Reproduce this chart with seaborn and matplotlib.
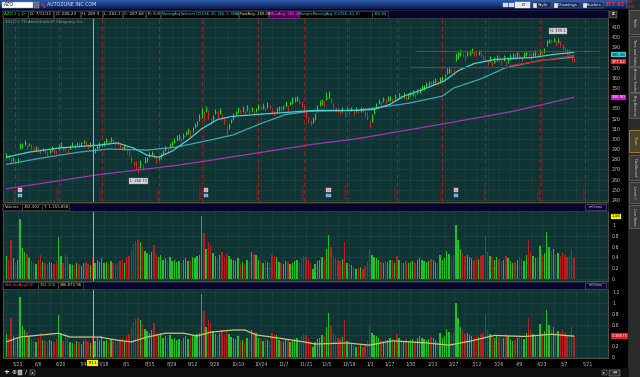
import numpy as np
import pandas as pd
import matplotlib
matplotlib.use("Agg")
import matplotlib.pyplot as plt
import matplotlib.transforms as mtrans
from matplotlib.patches import Rectangle
from matplotlib.ticker import FuncFormatter
import seaborn as sns

sns.set_theme(style="dark")
plt.rcParams['font.family'] = ['DejaVu Sans']
plt.rcParams['axes.unicode_minus'] = False

# ---------------- data ----------------
first_day = "2011-05-16"
last_axis_day = "2012-06-08"
market_holidays = ["2011-05-30", "2011-07-04", "2011-09-05", "2011-11-24", "2011-12-26",
                   "2012-01-02", "2012-01-16", "2012-02-20", "2012-04-06", "2012-05-28"]

close = [284, 282, 279, 281, 277, 279, 292, 294, 296, 293,
         295, 292, 290, 291, 289, 288, 290, 287, 286, 288,
         290, 289, 287, 292, 293, 291, 290, 289, 292, 294,
         293, 295, 294, 296, 297, 295, 293, 294, 287.68, 289,
         292, 294, 295, 296, 298, 297, 299, 298, 297, 296,
         293, 291, 292, 289, 286, 280, 276, 274, 268, 275,
         272, 278, 280, 284, 286, 283, 279, 281, 283, 287,
         290, 289, 293, 296, 298, 300, 302, 299, 303, 306,
         308, 305, 310, 313, 316, 321, 325, 323, 329, 324,
         318, 321, 326, 324, 327, 322, 319, 309, 313, 318,
         322, 325, 328, 327, 329, 326, 330, 327, 329, 325,
         328, 331, 330, 332, 329, 333, 331, 327, 325, 328,
         330, 329, 331, 333, 330, 335, 337, 338, 340, 336,
         334, 330, 324, 320, 316, 318, 322, 328, 335, 337,
         334, 340, 344, 338, 332, 329, 327, 326, 328, 325,
         329, 327, 329, 326, 328, 327, 329, 328, 325, 322,
         316, 320, 326, 333, 336, 335, 338, 337, 339, 340,
         338, 341, 339, 342, 341, 343, 340, 342, 344, 345,
         343, 346, 348, 350, 351, 353, 355, 354, 356, 357,
         355, 358, 359, 362, 366, 368, 367, 366, 380, 383,
         384, 382, 380, 383, 385, 386, 384, 383, 385, 382,
         380, 378, 376, 378, 375, 377, 380, 378, 376, 379,
         374, 378, 380, 382, 381, 383, 381, 379, 382, 384,
         383, 381, 383, 384, 382, 385, 384, 386, 395, 397,
         396, 398, 394, 396, 393, 390, 388, 385, 384, 380,
         377.62]

up = [2, 3, 2, 1, 3, 2, 4, 2, 3, 2,
      1, 3, 2, 2, 3, 2, 1, 3, 2, 2,
      3, 1, 2, 3, 4, 2, 3, 1, 2, 3,
      2, 2, 3, 1, 2, 3, 2, 3, 2.2, 2,
      2, 3, 1, 2, 3, 2, 3, 2, 1, 2,
      3, 2, 2, 3, 4, 3, 2, 4, 5, 4,
      3, 4, 2, 3, 2, 3, 4, 2, 3, 2,
      3, 2, 3, 2, 3, 4, 3, 2, 3, 2,
      3, 4, 2, 3, 2, 3, 5, 4, 3, 4,
      3, 2, 3, 4, 3, 2, 3, 4, 3, 2,
      3, 2, 3, 2, 3, 2, 3, 3, 2, 3,
      2, 3, 2, 3, 2, 3, 2, 3, 2, 3,
      2, 3, 2, 4, 3, 2, 4, 3, 2, 3,
      3, 4, 3, 2, 3, 4, 3, 5, 3, 2,
      3, 6, 3, 2, 3, 2, 3, 2, 3, 2,
      2, 3, 2, 2, 3, 2, 2, 3, 2, 4,
      3, 4, 3, 2, 3, 2, 3, 2, 3, 2,
      2, 3, 2, 3, 2, 3, 2, 3, 2, 3,
      2, 3, 2, 3, 2, 3, 2, 3, 2, 3,
      2, 3, 3, 2, 4, 3, 2, 3, 4, 3,
      4, 3, 2, 3, 2, 3, 2, 3, 2, 3,
      2, 3, 2, 3, 2, 3, 2, 3, 2, 3,
      3, 2, 3, 2, 3, 2, 3, 2, 3, 2,
      2, 3, 2, 3, 2, 3, 2, 3, 2, 1.5,
      2, 1, 3, 3.1, 3, 3, 2, 3, 4, 3,
      2]

dn = [3, 2, 4, 3, 2, 3, 2, 3, 2, 3,
      2, 3, 2, 3, 2, 3, 2, 2, 3, 2,
      2, 3, 2, 3, 2, 3, 2, 3, 2, 2,
      3, 2, 2, 3, 2, 2, 3, 2, 4.6, 3,
      2, 3, 2, 3, 2, 3, 2, 2, 3, 2,
      3, 2, 3, 4, 3, 4, 3, 4, 1.27, 4,
      3, 2, 3, 2, 3, 2, 3, 2, 3, 2,
      2, 3, 2, 3, 2, 2, 3, 2, 3, 2,
      3, 2, 3, 2, 3, 3, 4, 5, 3, 4,
      4, 3, 2, 3, 3, 3, 4, 5, 3, 2,
      3, 2, 3, 2, 3, 2, 3, 2, 3, 2,
      2, 3, 2, 3, 2, 3, 2, 3, 2, 3,
      3, 2, 3, 2, 3, 2, 3, 2, 3, 2,
      3, 4, 3, 4, 3, 2, 3, 2, 3, 4,
      3, 2, 4, 3, 2, 3, 2, 3, 2, 3,
      2, 3, 2, 3, 2, 2, 3, 2, 3, 3,
      4, 3, 2, 3, 2, 3, 2, 3, 2, 3,
      2, 3, 2, 3, 2, 3, 2, 3, 2, 3,
      3, 2, 3, 2, 3, 2, 3, 2, 3, 2,
      2, 3, 2, 3, 2, 3, 2, 3, 3, 4,
      3, 2, 3, 2, 3, 2, 3, 2, 3, 2,
      3, 2, 3, 2, 3, 2, 3, 2, 3, 2,
      2, 3, 2, 3, 2, 3, 2, 3, 2, 3,
      2, 3, 2, 3, 2, 3, 2, 2, 4, 3,
      2, 3, 3, 2, 3, 3, 2, 3, 2, 3,
      2]

volume = [0.42, 0.35, 0.73, 0.38, 0.30, 0.36, 1.12, 0.58, 0.50, 0.47,
          0.38, 0.33, 0.30, 0.28, 0.35, 0.45, 0.32, 0.29, 0.27, 0.31,
          0.30, 0.28, 0.33, 0.78, 0.42, 0.30, 0.45, 0.40, 0.28, 0.26,
          0.25, 0.30, 0.27, 0.24, 0.29, 0.31, 0.28, 0.26, 0.392, 0.30,
          0.35, 0.32, 0.38, 0.29, 0.31, 0.28, 0.34, 0.30, 0.27, 0.29,
          0.33, 0.36, 0.30, 0.38, 0.42, 0.55, 0.65, 0.70, 0.72, 0.68,
          0.60, 0.52, 0.48, 0.44, 0.50, 0.63, 0.45, 0.40, 0.45, 0.36,
          0.38, 0.35, 0.40, 0.33, 0.36, 0.31, 0.34, 0.30, 0.35, 0.38,
          0.33, 0.36, 0.40, 0.38, 0.42, 0.45, 1.16, 0.85, 0.55, 0.68,
          0.63, 0.48, 0.42, 0.38, 0.45, 0.50, 0.40, 0.46, 0.42, 0.37,
          0.35, 0.33, 0.38, 0.30, 0.32, 0.28, 0.35, 0.31, 0.50, 0.47,
          0.44, 0.36, 0.33, 0.30, 0.35, 0.31, 0.29, 0.45, 0.43, 0.40,
          0.32, 0.30, 0.28, 0.33, 0.31, 0.27, 0.30, 0.34, 0.36, 0.32,
          0.38, 0.42, 0.40, 0.35, 0.30, 0.18, 0.28, 0.33, 0.36, 0.40,
          0.38, 0.55, 0.82, 0.60, 0.45, 0.40, 0.35, 0.33, 0.37, 0.68,
          0.30, 0.28, 0.26, 0.22, 0.18, 0.20, 0.22, 0.19, 0.24, 0.32,
          0.55, 0.45, 0.40, 0.38, 0.35, 0.32, 0.30, 0.34, 0.31, 0.36,
          0.33, 0.30, 0.42, 0.35, 0.32, 0.30, 0.34, 0.29, 0.31, 0.33,
          0.30, 0.35, 0.38, 0.36, 0.33, 0.31, 0.34, 0.37, 0.35, 0.32,
          0.30, 0.45, 0.36, 0.38, 0.52, 0.47, 0.40, 0.45, 1.00, 0.72,
          0.55, 0.48, 0.42, 0.45, 0.40, 0.38, 0.36, 0.40, 0.37, 0.42,
          0.45, 0.80, 0.50, 0.42, 0.38, 0.35, 0.40, 0.37, 0.33, 0.36,
          0.42, 0.38, 0.34, 0.30, 0.32, 0.35, 0.40, 0.37, 0.34, 0.45,
          0.72, 0.50, 0.42, 0.38, 0.40, 0.62, 0.45, 0.48, 0.88, 0.60,
          0.52, 0.55, 0.45, 0.48, 0.42, 0.50, 0.45, 0.40, 0.42, 0.55,
          0.39]

# study lines (trading-day index, value)
ma20_idx = [0, 10, 23, 41, 49, 56, 62, 67, 73, 80, 86, 93, 99, 110, 123, 136, 145, 154,
            162, 169, 175, 184, 193, 199, 206, 215, 223, 232, 241, 250]
ma20_val = [282, 287, 291, 294, 296, 291, 284, 282, 288, 299, 310, 319, 322, 324, 326, 328,
            328, 328, 329, 334, 342, 349, 357, 367, 374, 378, 379, 380, 383, 385]
ma50_idx = [0, 15, 32, 45, 62, 75, 90, 100, 112, 123, 133, 154, 161, 177, 192, 197, 209,
            220, 235, 250]
ma50_val = [275, 281, 287, 290, 289, 292, 299, 304, 315, 324, 327, 328, 330, 335, 342, 350,
            359, 370, 377, 380.38]
ma200_idx = [0, 41, 75, 84, 136, 154, 193, 223, 250]
ma200_val = [251, 265, 274, 277, 295, 300, 315, 327, 340.90]
vavg_idx = [0, 6, 23, 28, 41, 49, 55, 62, 70, 78, 84, 90, 100, 105, 110, 120, 131, 136,
            150, 160, 170, 185, 195, 205, 215, 228, 240, 250]
vavg_val = [0.28, 0.37, 0.44, 0.37, 0.37, 0.31, 0.28, 0.37, 0.44, 0.44, 0.39, 0.46, 0.50,
            0.50, 0.41, 0.35, 0.28, 0.24, 0.26, 0.22, 0.30, 0.26, 0.22, 0.30, 0.40, 0.38,
            0.42, 0.387]

tick_dates = ["2011-05-23", "2011-06-06", "2011-06-20", "2011-07-05", "2011-07-18",
              "2011-08-01", "2011-08-15", "2011-08-29", "2011-09-12", "2011-09-26",
              "2011-10-10", "2011-10-24", "2011-11-07", "2011-11-21", "2011-12-05",
              "2011-12-19", "2012-01-03", "2012-01-17", "2012-01-30", "2012-02-13",
              "2012-02-27", "2012-03-12", "2012-03-26", "2012-04-09", "2012-04-23",
              "2012-05-07", "2012-05-21"]
tick_labels = ["5/23", "6/6", "6/20", "7/4", "7/18", "8/1", "8/15", "8/29", "9/12", "9/26",
               "10/10", "10/24", "11/7", "11/21", "12/5", "12/19", "1/3", "1/17", "1/30",
               "2/13", "2/27", "3/12", "3/26", "4/9", "4/23", "5/7", "5/21"]
expiry_dates = ["2011-05-20", "2011-06-17", "2011-07-15", "2011-08-19", "2011-09-16",
                "2011-10-21", "2011-11-18", "2011-12-16", "2012-01-20", "2012-02-17",
                "2012-03-16", "2012-04-20", "2012-05-18"]
expiry_labels = ["5/20/11", "6/17/11", "7/15/11", "8/19/11", "9/16/11", "10/21/11",
                 "11/18/11", "12/16/11", "1/20/12", "2/17/12", "3/16/12", "4/20/12", "5/18/12"]
earnings_dates = ["2011-05-24", "2011-09-20", "2011-12-06", "2012-02-28"]
level_prices = [386.0, 371.0]
level_starts = ["2012-02-01", "2012-01-30"]
trend_dates = ["2012-04-02", "2012-05-11"]
trend_prices = [372.0, 382.0]
cursor_date = "2011-07-11"
low_date, low_text = "2011-08-08", "L: 266.73"
high_date, high_text = "2012-05-02", "H: 399.1"

# ---------------- calendar ----------------
days = pd.bdate_range(first_day, last_axis_day)
days = days[~days.isin(pd.to_datetime(market_holidays))]


def di(d):
    return int(days.searchsorted(pd.Timestamp(d)))


n = len(close)
idx = np.arange(n)
close_a = np.array(close, float)
high_a = close_a + np.array(up, float)
low_a = close_a - np.array(dn, float)
prev = np.concatenate([[close_a[0] - 1], close_a[:-1]])
is_up = close_a >= prev

# ---------------- figure ----------------
W, H = 640, 377
fig = plt.figure(figsize=(6.4, 3.77), dpi=100, facecolor="#000000")


def R(x0, y0, x1, y1):
    return [x0 / W, 1 - y1 / H, (x1 - x0) / W, (y1 - y0) / H]


BG = "#103434"
GRID = "#2f5e5e"
UPC, DNC = "#26d026", "#d02626"
VUP, VDN = "#1fc21f", "#b51f1f"
XMIN, XMAX = -1.5, 261.5

week_pos = sorted(set(int(np.searchsorted(days, d)) for d in
                      pd.date_range(days[0], days[-1], freq="W-MON")))
tick_pos = [di(d) for d in tick_dates]


def panel(rect):
    ax = fig.add_axes(R(*rect))
    ax.set_facecolor(BG)
    for s in ax.spines.values():
        s.set_color("#5c5438")
        s.set_linewidth(0.7)
        s.set_visible(True)
    ax.set_xlim(XMIN, XMAX)
    ax.yaxis.tick_right()
    ax.tick_params(axis='y', labelsize=3.4, colors="#c4c4c4", length=0, pad=3)
    ax.tick_params(axis='x', length=0, labelsize=3.3, colors="#bcbcbc", pad=2.2)
    ax.set_xticks(tick_pos)
    ax.set_xticks(week_pos, minor=True)
    ax.tick_params(axis='x', which='minor', length=0)
    ax.grid(True, which='both', color=GRID, lw=0.5, ls=(0, (1, 2)))
    ax.set_axisbelow(True)
    return ax


def fmt_skip(hidden, digits):
    def f(v, p):
        if any(abs(v - h) < 1e-6 for h in hidden):
            return ""
        return f"{v:.{digits}f}" if digits else f"{v:g}"
    return FuncFormatter(f)


ax_p = panel((3, 18, 608, 202))
ax_v = panel((3, 211, 608, 281))
ax_a = panel((3, 289, 608, 358))

# ---- price panel ----
ax_p.set_ylim(238.0, 418.8)
ax_p.set_yticks(np.arange(240, 411, 10))
ax_p.yaxis.set_major_formatter(fmt_skip([380, 340], 0))
ax_p.set_xticklabels([])
for d in expiry_dates:
    ax_p.axvline(di(d), color="#9e1c1c", lw=0.8, ls=(0, (4, 3)), zorder=1)
ax_p.vlines(idx, low_a, high_a, colors=np.where(is_up, UPC, DNC), lw=0.75, zorder=3)
ax_p.hlines(close_a, idx, idx + 0.45, colors=np.where(is_up, UPC, DNC), lw=0.5, zorder=3)

sns.lineplot(x=ma200_idx, y=ma200_val, ax=ax_p, color="#a334b4", lw=0.9, zorder=4)
sns.lineplot(x=ma50_idx, y=ma50_val, ax=ax_p, color="#3aa9b6", lw=0.9, zorder=4)
sns.lineplot(x=ma20_idx, y=ma20_val, ax=ax_p, color="#4fd0d4", lw=0.9, zorder=4)
ax_p.set_xlabel("")
ax_p.set_ylabel("")

for lv, st in zip(level_prices, level_starts):
    ax_p.hlines(lv, di(st), XMAX, color="#b02424", lw=0.8, zorder=5)
sns.lineplot(x=[di(d) for d in trend_dates], y=trend_prices, ax=ax_p, color="#c02828",
             lw=0.9, zorder=5)
ax_p.set_xlabel("")
ax_p.set_ylabel("")

ax_p.text(di(low_date), 258.5, low_text, fontsize=2.6, color="#202020", ha="center",
          va="center", zorder=6,
          bbox=dict(boxstyle="square,pad=0.3", fc="#d8d8d8", ec="#888888", lw=0.3))
ax_p.text(di(high_date), 406, high_text, fontsize=2.6, color="#202020", ha="center",
          va="center", zorder=6,
          bbox=dict(boxstyle="square,pad=0.3", fc="#d8d8d8", ec="#888888", lw=0.3))

bx = mtrans.blended_transform_factory(ax_p.transData, ax_p.transAxes)
for d, lab in zip(expiry_dates, expiry_labels):
    ax_p.text(di(d), 0.015, lab, transform=bx, rotation=90, fontsize=2.5, color="#a02a2a",
              ha="center", va="bottom", zorder=6)
for d in earnings_dates:
    x = di(d)
    ax_p.add_patch(Rectangle((x - 1.0, 0.055), 2.0, 0.02, transform=bx, fc="#e8a0b4",
                             ec="#ffffff", lw=0.2, zorder=7))
    ax_p.add_patch(Rectangle((x - 1.0, 0.025), 2.0, 0.02, transform=bx, fc="#5aa6d6",
                             ec="#ffffff", lw=0.2, zorder=7))

# right-edge value tags (cyan stacked above red as in the platform)
ry = mtrans.blended_transform_factory(ax_p.transAxes, ax_p.transData)
for val, shift, fc, tc in [(340.90, 0.0, "#c21ec8", "#ffffff"),
                           (380.38, 2.3, "#3ec6d2", "#002020"),
                           (377.62, -1.6, "#e01e1e", "#ffffff")]:
    ax_p.text(1.006, val + shift, f"{val:.2f}", transform=ry, fontsize=2.9, color=tc,
              ha="left", va="center", zorder=8, clip_on=False,
              bbox=dict(boxstyle="square,pad=0.15", fc=fc, ec=fc, lw=0.2))

# ---- volume panel ----
vcols = np.where(is_up, VUP, VDN)
ax_v.bar(idx, volume, width=0.6, color=vcols, lw=0, zorder=3)
ax_v.set_ylim(-0.037, 1.26)
ax_v.set_yticks([0, 0.2, 0.4, 0.6, 0.8, 1.0])
ax_v.yaxis.set_major_formatter(fmt_skip([], None))
ax_v.set_xticklabels([])
ry = mtrans.blended_transform_factory(ax_v.transAxes, ax_v.transData)
ax_v.text(1.006, max(volume), f"{max(volume):.2f}", transform=ry, fontsize=3.0,
          color="#000000", ha="left", va="center", zorder=8, clip_on=False,
          bbox=dict(boxstyle="square,pad=0.2", fc="#f2f200", ec="#f2f200", lw=0.2))

# ---- volume avg panel ----
ax_a.bar(idx, volume, width=0.6, color=vcols, lw=0, zorder=3)
sns.lineplot(x=vavg_idx, y=vavg_val, ax=ax_a, color="#c9c67a", lw=0.9, zorder=4)
ax_a.set_xlabel("")
ax_a.set_ylabel("")
ax_a.set_ylim(-0.0185, 1.26)
ax_a.set_yticks([0, 0.2, 0.4, 0.6, 0.8, 1.0, 1.2])
ax_a.yaxis.set_major_formatter(fmt_skip([0.4], None))
ax_a.set_xticklabels(tick_labels)
ry = mtrans.blended_transform_factory(ax_a.transAxes, ax_a.transData)
ax_a.text(1.006, vavg_val[-1], "0.38675", transform=ry, fontsize=2.8, color="#ffffff",
          ha="left", va="center", zorder=8, clip_on=False,
          bbox=dict(boxstyle="square,pad=0.2", fc="#e01e1e", ec="#e01e1e", lw=0.2))
bxa = mtrans.blended_transform_factory(ax_a.transData, ax_a.transAxes)
ax_a.text(di(cursor_date), -0.072, "7/11", transform=bxa, fontsize=3.1, color="#000000",
          ha="center", va="center", zorder=9, clip_on=False,
          bbox=dict(boxstyle="square,pad=0.2", fc="#f0f000", ec="#f0f000", lw=0.2))

for ax in (ax_p, ax_v, ax_a):
    ax.axvline(di(cursor_date), color="#bdb55e", lw=0.7, zorder=6)

# ---------------- chrome overlay (pixel coordinates) ----------------
ov = fig.add_axes([0, 0, 1, 1], zorder=20)
ov.set_xlim(0, W)
ov.set_ylim(H, 0)
ov.axis("off")
ov.patch.set_alpha(0)


def box(x0, y0, x1, y1, fc, ec=None, lw=0.5, z=1):
    ov.add_patch(Rectangle((x0, y0), x1 - x0, y1 - y0, fc=fc, ec=ec or fc, lw=lw, zorder=z))


def txt(x, y, s, color, fs, ha="left", va="center", z=3, **kw):
    ov.text(x, y, s, color=color, fontsize=fs, ha=ha, va=va, zorder=z, **kw)


# top toolbar gradient
grad = np.linspace(0, 1, 20).reshape(-1, 1)
top_c = np.array([0.20, 0.38, 0.72])
bot_c = np.array([0.04, 0.12, 0.33])
img = (top_c * (1 - grad) + bot_c * grad)[:, None, :].repeat(2, axis=1)
ov.imshow(img, extent=(0, 640, 9.5, 0), aspect="auto", zorder=0)
box(2, 1.5, 33, 8, "#ffffff", "#8090a0", 0.3)
txt(4, 4.8, "AZO", "#101010", 3.4)
box(34, 1.5, 39, 8, "#5a6c88", "#a0b0c0", 0.3)
box(41, 2.5, 44, 5, "#e02020", z=2)
box(42.5, 4.5, 45, 7, "#2050e0", z=2)
txt(47, 4.9, "AUTOZONE INC COM", "#e8e8f0", 3.4)
for xx in (503, 509):
    box(xx, 2.5, xx + 4.5, 7, "#d0d8e0", "#ffffff", 0.2)
box(515, 2, 530, 7.5, "#e8e8e8", "#ffffff", 0.3)
txt(523, 4.8, "D", "#101010", 3.0, ha="center")
for x0, x1, s in [(532, 551, "Style"), (553, 580, "Drawings"), (582, 603, "Studies")]:
    box(x0, 1.8, x1, 7.8, "#1a2c58", "#6a7ca8", 0.3)
    txt((x0 + x1) / 2 + 1.5, 4.9, s, "#f0f0f0", 3.1, ha="center")
    box(x0 + 1, 3, x0 + 3.5, 6.6, "#e8e8e8", z=2)
txt(605, 4.9, "377.62", "#ff2a2a", 3.8, weight="bold")
txt(626, 2.4, "-2.38", "#ff3a3a", 1.9)
txt(626, 7.2, "-0.63%", "#ff3a3a", 1.9)

# header row of price panel
box(2, 10, 608, 18, "#07072e", "#3a3a50", 0.4)
hdr = [("AZO 1 y D", 3, 28, "#2ee02e", 3.0), ("D: 7/11/11", 28, 53, "#d6d6d6", 3.0),
       ("O: 288.23", 54, 80, "#d6d6d6", 3.0), ("H: 289.9", 81, 102, "#d6d6d6", 3.0),
       ("L: 283.1", 103, 122, "#d6d6d6", 3.0), ("C: 287.68", 123, 145, "#d6d6d6", 3.0),
       ("R: 6.8", 146, 160, "#d6d6d6", 3.0),
       ("MovingAvgTwoLines (CLOSE, 50, 200, 0, SMA)", 161, 238, "#46d2e6", 2.45),
       ("FastAvg: 289.08", 239, 268, "#e6e6b0", 2.7)]
for s, x0, x1, c, fs in hdr:
    box(x0, 10.5, x1, 17.5, "#000000", "#5a5a5a", 0.4, z=2)
    txt(x0 + 1.5, 14.1, s, c, fs)
box(269, 10.5, 298, 17.5, "#4a0050", "#a030b0", 0.4, z=2)
txt(270.5, 14.1, "MovAvg: 265.28", "#ff55ff", 2.7)
box(299, 10.5, 372, 17.5, "#000000", "#5a5a5a", 0.4, z=2)
txt(300.5, 14.1, "SimpleMovingAvg (CLOSE, 20, 0)", "#46d2e6", 2.6)
box(372, 10.5, 388, 17.5, "#000000", "#5a5a5a", 0.4, z=2)
txt(373.5, 14.1, "293.84", "#46d2e6", 2.7)
box(609, 10.5, 617, 17.5, "#303030", "#909090", 0.3)
txt(613, 14.1, "Z", "#ffffff", 3.0, ha="center", weight="bold")
txt(5, 22.5, "2012 \u00a9 TD Ameritrade IP Company, Inc.", "#9a9a9a", 2.8)

# volume header
box(2, 203, 608, 210.5, "#07072e", "#3a3a50", 0.4)
for s, x0, x1, c in [("Volume", 3, 22, "#d6d6d6"), ("392,302", 22, 42, "#d6d6d6"),
                     ("T: 1,159,858", 42, 69, "#d6d6d6")]:
    box(x0, 203.5, x1, 210, "#000000", "#5a5a5a", 0.4, z=2)
    txt(x0 + 1.5, 206.9, s, c, 2.8)
box(585, 204, 606, 210, "#0a0a38", "#7a4a9a", 0.4, z=2)
txt(595.5, 207, "millions", "#d8d8d8", 2.5, ha="center")

# volume avg header
box(2, 281.5, 608, 289, "#07072e", "#3a3a50", 0.4)
for s, x0, x1, c in [("VolumeAvg(50)", 3, 38, "#ff3a5a"), ("392,302", 38, 58, "#3ee03e"),
                     ("386,872.96", 58, 83, "#e6e66a")]:
    box(x0, 282, x1, 288.5, "#000000", "#5a5a5a", 0.4, z=2)
    txt(x0 + 1.5, 285.3, s, c, 2.8)
box(585, 282.5, 606, 288.5, "#0a0a38", "#7a4a9a", 0.4, z=2)
txt(595.5, 285.5, "millions", "#d8d8d8", 2.5, ha="center")

# right dock
box(628, 0, 640, 377, "#2b2b2b", "#2b2b2b")
tabs = [("Trade", 10, 34), ("Time and Sales", 36, 66), ("Active Trader", 67, 92),
        ("Big Buttons", 93, 118), ("Chart", 130, 152), ("Dashboard", 155, 180),
        ("Level II", 182, 203), ("Live News", 205, 228)]
for s, y0, y1 in tabs:
    hl = s == "Chart"
    box(629, y0, 639.5, y1, "#3a3a3a" if not hl else "#4a4430",
        "#7a7a7a" if not hl else "#d8b840", 0.4)
    txt(634.3, (y0 + y1) / 2, s, "#d0d0d0" if not hl else "#f0d050", 2.5, ha="center",
        rotation=270)

# bottom toolbar
box(0, 368, 628, 377, "#101010", "#101010")
txt(6, 372.5, "+", "#f0f0f0", 5.0, ha="center", weight="bold")
txt(13.5, 372.5, "\u2295", "#e0e0ff", 4.2, ha="center")
box(17.5, 369.8, 22, 375.2, "#a0a0a0", "#e0e0e0", 0.3)
txt(26, 372.5, "/", "#f0f0f0", 4.2, ha="center")
box(30, 369.8, 34.5, 375.2, "#202020", "#a0a0a0", 0.3)
txt(32.3, 372.5, "\u25c2", "#d0d0d0", 3.0, ha="center")
box(602, 369.8, 606.5, 375.2, "#202020", "#a0a0a0", 0.3)
txt(604.3, 372.5, "\u25b8", "#d0d0d0", 3.0, ha="center")
box(609, 369.5, 620, 375.5, "#303030", "#c0c0c0", 0.3)
txt(614.5, 372.5, "\u21d4", "#ffffff", 3.6, ha="center")

fig.savefig("out.png", dpi=100, facecolor=fig.get_facecolor())
